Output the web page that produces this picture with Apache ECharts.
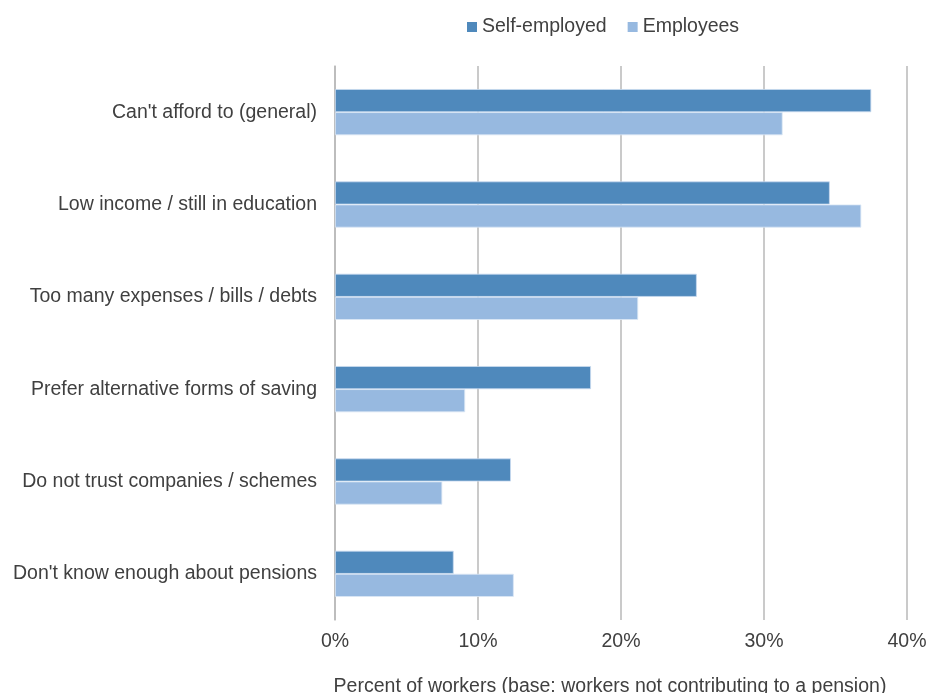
<!DOCTYPE html>
<html>
<head>
<meta charset="utf-8">
<script src="https://cdn.jsdelivr.net/npm/echarts@6/dist/echarts.min.js"></script>
<style>
  html, body { margin: 0; padding: 0; background: #fff; }
  #chart { width: 930px; height: 693px; }
</style>
</head>
<body>
<div id="chart"></div>
<script>
// Reasons for not contributing to a pension, by employment type (percent)
const categories = [
  "Can't afford to (general)",
  "Low income / still in education",
  "Too many expenses / bills / debts",
  "Prefer alternative forms of saving",
  "Do not trust companies / schemes",
  "Don't know enough about pensions"
];
const selfEmployed = [37.5, 34.6, 25.3, 17.9, 12.3, 8.3];
const employees = [31.3, 36.8, 21.2, 9.1, 7.5, 12.5];
const xTicks = [0, 10, 20, 30, 40];

const FONT = "'Liberation Sans', Arial, sans-serif";
const TEXT = '#404040';
const FS = 19.5;

const chart = echarts.init(document.getElementById('chart'));
chart.setOption({
  animation: false,
  backgroundColor: '#ffffff',
  textStyle: { fontFamily: FONT },
  legend: {
    top: 12,
    left: 462,
    itemWidth: 10,
    itemHeight: 10,
    itemGap: 21,
    icon: 'rect',
    itemStyle: { borderWidth: 0 },
    textStyle: { fontSize: FS, color: TEXT, fontFamily: FONT }
  },
  grid: { left: 335, right: 23, top: 66, bottom: 73, containLabel: false, outerBoundsMode: 'none' },
  xAxis: {
    type: 'value',
    min: xTicks[0],
    max: xTicks[xTicks.length - 1],
    interval: 10,
    name: 'Percent of workers (base: workers not contributing to a pension)',
    nameLocation: 'middle',
    nameGap: 57,
    nameTextStyle: { fontSize: FS, color: TEXT, fontFamily: FONT, padding: [0, 22, 0, 0] },
    axisLine: { show: false },
    axisTick: { show: false },
    axisLabel: {
      fontSize: FS, color: TEXT, fontFamily: FONT, margin: 12,
      formatter: v => v + '%'
    },
    splitLine: { show: true, lineStyle: { color: '#b8b8b8', width: 1.5 } }
  },
  yAxis: {
    type: 'category',
    data: categories,
    inverse: true,
    axisLine: { show: true, lineStyle: { color: '#b8b8b8', width: 1.5 } },
    axisTick: { show: false },
    axisLabel: { fontSize: FS, color: TEXT, fontFamily: FONT, margin: 18 }
  },
  series: [
    {
      name: 'Self-employed',
      type: 'bar',
      data: selfEmployed,
      barGap: '0%',
      barCategoryGap: '50%',
      itemStyle: { color: '#4f89bc', borderColor: '#c9daf0', borderWidth: 0.8 }
    },
    {
      name: 'Employees',
      type: 'bar',
      data: employees,
      itemStyle: { color: '#97b9e0', borderColor: '#dbe7f5', borderWidth: 0.8 }
    }
  ]
});
</script>
</body>
</html>
